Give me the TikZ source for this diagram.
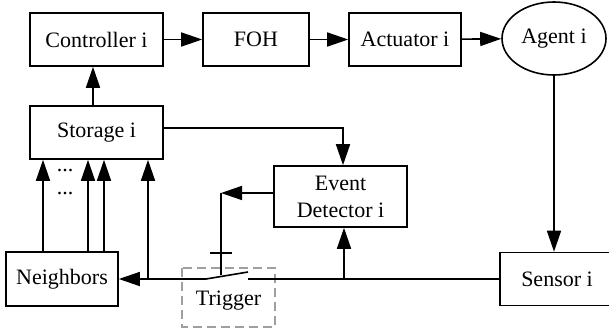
\documentclass[tikz,border=0pt]{standalone}
\usepackage{fontspec}
\setmainfont{Liberation Serif}
\usetikzlibrary{arrows.meta,shapes.geometric}

\tikzset{
  blk/.style={draw, line width=1.6pt, inner sep=0pt, align=center,
    font=\fontsize{22}{27}\selectfont},
  oval/.style={blk, ellipse},
  arr/.style={line width=1.6pt, -{Triangle[length=21pt,width=14pt]}},
  wire/.style={line width=1.6pt},
  dots/.style={font=\fontsize{22}{27}\selectfont, inner sep=0pt, anchor=base},
  trig/.style={draw=gray!75, line width=1.4pt, dash pattern=on 9pt off 5pt}
}

\begin{document}
\begin{tikzpicture}[x=1pt, y=-1pt]
  \useasboundingbox (0,0) rectangle (609,329);

  % forward path
  \node[blk, minimum width=133pt, minimum height=53pt] (ctrl) at (96.5,39.5) {Controller i};
  \node[blk, minimum width=106pt, minimum height=53pt] (foh)  at (256,39.5) {FOH};
  \node[blk, minimum width=112pt, minimum height=53pt] (act)  at (405,39.5) {Actuator i};
  \node[oval, minimum width=104pt, minimum height=73pt] (agent) at (554,38.5) {Agent i};

  % memory, detector, neighbours, sensor
  \node[blk, minimum width=133pt, minimum height=53pt] (stor)  at (96.5,132.5) {Storage i};
  \node[blk, minimum width=133pt, minimum height=61pt] (ed)    at (340.5,196.5) {Event\\Detector i};
  \node[blk, minimum width=112pt, minimum height=54pt] (neigh) at (62,279) {Neighbors};
  \node[blk, minimum width=114pt, minimum height=53pt] (sens)  at (557,279) {Sensor i};

  % trigger (switch) box
  \draw[trig] (182,268) rectangle (275,327);
  \node[font=\fontsize{22}{27}\selectfont, inner sep=0pt] (trigtxt) at (228.5,301) {Trigger};

  % top chain
  \draw[arr] (ctrl) -- (foh);
  \draw[arr] (foh) -- (act);
  \draw[arr] (act) -- (agent);
  \draw[arr] ([xshift=-3.5pt]stor.north) -- ([xshift=-3.5pt]ctrl.south);

  % storage to event detector
  \draw[arr] ([yshift=4.5pt]stor.east) -| ([xshift=2.5pt]ed.north);

  % agent to sensor
  \draw[arr] (agent.south) -- (agent.south |- sens.north);

  % switch
  \coordinate (swL) at (206,279);
  \coordinate (swR) at (248,279);
  \coordinate (swT) at (248,272);
  \coordinate (edout) at (221,193);
  \coordinate (pin) at (221,275);
  \coordinate (barL) at (210,253);
  \coordinate (barR) at (232,253);
  \coordinate (tapS) at (148,279);
  \coordinate (tapE) at (344,279);

  \draw[wire] (sens.west) -- (swR);
  \draw[wire] (swL) -- (swT);
  \draw[arr] (swL) -- (neigh.east);
  \draw[arr] ([yshift=3.5pt]ed.west) -- (edout);
  \draw[wire] (edout) -- (pin);
  \draw[wire] (barL) -- (barR);

  % taps off the sensor line
  \draw[arr] (tapS) -- (tapS |- stor.south);
  \draw[arr] (tapE) -- (tapE |- ed.south);

  % neighbour links into storage
  \draw[arr] (43,0 |- neigh.north) -- (43,0 |- stor.south);
  \draw[arr] (88,0 |- neigh.north) -- (88,0 |- stor.south);
  \draw[arr] (104,0 |- neigh.north) -- (104,0 |- stor.south);
  \node[dots] (d1) at (65,171) {...};
  \node[dots] (d2) at (65,194) {...};
\end{tikzpicture}
\end{document}
